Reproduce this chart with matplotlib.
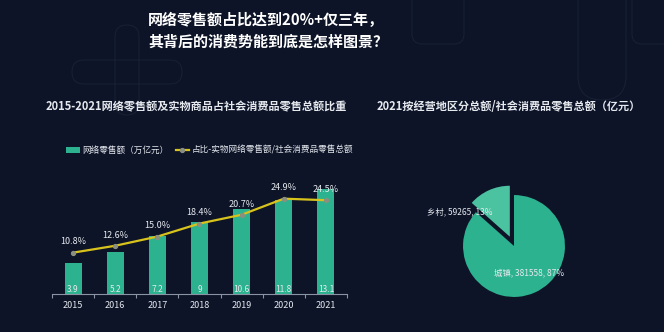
import numpy as np
import matplotlib.pyplot as plt
from matplotlib.patches import FancyBboxPatch

plt.rcParams['font.family'] = ['Noto Sans CJK SC', 'DejaVu Sans']

years = ['2015', '2016', '2017', '2018', '2019', '2020', '2021']
online_sales = [3.9, 5.2, 7.2, 9, 10.6, 11.8, 13.1]        # 万亿元
online_share = [10.8, 12.6, 15.0, 18.4, 20.7, 24.9, 24.5]  # %

regions = ['乡村', '城镇']
region_sales = [59265, 381558]  # 亿元

bg = '#0d1428'
teal = '#2db28f'
teal_light = '#4cc3a0'
gold = '#d8c21c'
txt = '#e6e9ee'

fig = plt.figure(figsize=(6.64, 3.32), dpi=100)
fig.patch.set_facecolor(bg)

# faint decorative outlines in the background
deco = fig.add_axes([0, 0, 1, 1], zorder=-5)
deco.set_xlim(0, 664)
deco.set_ylim(332, 0)
deco.axis('off')
line_kw = dict(fill=False, edgecolor='#2a3446', lw=0.7, alpha=0.4)
deco.add_patch(FancyBboxPatch((115, 25), 24, 90, boxstyle='round,pad=0,rounding_size=12', **line_kw))
deco.add_patch(FancyBboxPatch((72, 60), 110, 24, boxstyle='round,pad=0,rounding_size=12', **line_kw))
deco.add_patch(FancyBboxPatch((578, -40), 48, 140, boxstyle='round,pad=0,rounding_size=24', **line_kw))
deco.add_patch(FancyBboxPatch((632, -40), 60, 84, boxstyle='round,pad=0,rounding_size=10', **line_kw))
deco.add_patch(FancyBboxPatch((412, -40), 52, 84, boxstyle='round,pad=0,rounding_size=10', **line_kw))

fig.text(148 / 664, 1 - 20 / 332, '网络零售额占比达到20%+仅三年，', color='white',
         fontsize=10.8, fontweight='bold', ha='left', va='center')
fig.text(148 / 664, 1 - 42 / 332, '其背后的消费势能到底是怎样图景？', color='white',
         fontsize=10.8, fontweight='bold', ha='left', va='center')

fig.text(196 / 664, 1 - 107 / 332, '2015-2021网络零售额及实物商品占社会消费品零售总额比重',
         color=txt, fontsize=8, fontweight='bold', ha='center', va='center')
fig.text(509 / 664, 1 - 107 / 332, '2021按经营地区分总额/社会消费品零售总额（亿元）',
         color=txt, fontsize=8, fontweight='bold', ha='center', va='center')

# bar + line chart
ax = fig.add_axes([52 / 664, 38 / 332, 295 / 664, 134 / 332])
ax.set_facecolor('none')
x = np.arange(len(years))
bars = ax.bar(x, online_sales, width=0.4, color=teal, label='网络零售额（万亿元）', zorder=2)
for xi, v in zip(x, online_sales):
    ax.text(xi, 0.55, f'{v:g}', color=txt, fontsize=6, ha='center', va='center', zorder=3)
ax.set_xlim(-0.5, len(years) - 0.5)
ax.set_ylim(0, 16.75)
ax.set_xticks(x)
ax.set_xticklabels(years, color=txt, fontsize=6.5)
ax.set_xticks(np.arange(-0.5, len(years)), minor=True)
ax.tick_params(axis='x', which='major', length=0, pad=5)
ax.tick_params(axis='x', which='minor', length=3, color='#8a93a3', width=0.8)
ax.set_yticks([])
for s in ['top', 'left', 'right']:
    ax.spines[s].set_visible(False)
ax.spines['bottom'].set_color('#8a93a3')
ax.spines['bottom'].set_linewidth(0.8)

ax2 = ax.twinx()
ax2.set_ylim(0, 35)
line, = ax2.plot(x, online_share, color=gold, lw=1.6, marker='o', ms=2.8,
                 mfc='#8a8f80', mec='#8a8f80', label='占比-实物网络零售额/社会消费品零售总额', zorder=4)
for xi, v in zip(x, online_share):
    ax2.text(xi, v + 2.8, f'{v:.1f}%', color=txt, fontsize=6.5, ha='center', va='center')
ax2.set_yticks([])
for s in ax2.spines.values():
    s.set_visible(False)

leg = ax.legend([bars, line], [bars.get_label(), line.get_label()], loc='lower left',
                bbox_to_anchor=(0.03, 1.0), ncol=2, frameon=False, fontsize=6.2,
                labelcolor=txt, handlelength=1.6, handleheight=0.6, handletextpad=0.3,
                columnspacing=0.8, borderaxespad=0.2)

# pie chart
pax = fig.add_axes([434 / 664, 6 / 332, 160 / 664, 160 / 332])
pax.set_facecolor('none')
pax.pie(region_sales, colors=[teal_light, teal], startangle=90, counterclock=True,
        explode=[0.2, 0], wedgeprops=dict(linewidth=0))
pax.set_xlim(-1.57, 1.57)
pax.set_ylim(-1.57, 1.57)
pax.set_aspect('equal')
total = sum(region_sales)
label_pos = [(-1.06, 0.67), (0.29, -0.53)]
for name, v, (lx, ly) in zip(regions, region_sales, label_pos):
    pax.text(lx, ly, f'{name}, {v}, {v / total:.0%}', color=txt, fontsize=6,
             ha='center', va='center')

fig.savefig('out.png', dpi=100, facecolor=bg)
